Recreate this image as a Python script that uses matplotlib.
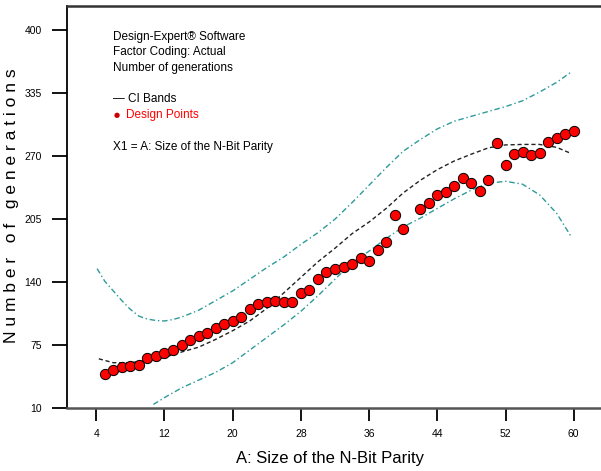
import matplotlib
matplotlib.use('Agg')
import matplotlib.pyplot as plt

# Design points (A: size of the N-bit parity vs number of generations)
x_pts = [5, 6, 7, 8, 9, 10, 11, 12, 13, 14, 15, 16, 17, 18, 19, 20, 21, 22, 23, 24,
         25, 26, 27, 28, 29, 30, 31, 32, 33, 34, 35, 36, 37, 38, 39, 40, 42, 43, 44,
         45, 46, 47, 48, 49, 50, 51, 52, 53, 54, 55, 56, 57, 58, 59, 60]
y_pts = [45.7, 49.5, 52.6, 53.6, 54.4, 61.5, 64.2, 67.3, 70.1, 75.3, 80.4, 84.5, 87.3,
         92.5, 96.9, 100.3, 104.4, 112.1, 117.2, 119.6, 120.9, 119.6, 119.9, 129.2,
         132.0, 143.0, 151.0, 153.6, 156.0, 159.1, 165.0, 161.9, 173.5, 181.3, 209.3,
         194.8, 215.5, 221.3, 229.9, 233.3, 239.2, 247.1, 242.0, 234.3, 245.4, 283.2,
         260.8, 271.9, 274.5, 271.1, 272.9, 284.2, 289.0, 292.8, 296.2]

# fitted line
x_fit = [4.3, 6, 8, 10, 12, 14, 16, 18, 20, 22, 24, 26, 28, 30, 32, 34, 36, 38, 40,
         42, 44, 46, 48, 50, 52, 54, 56, 58, 59.6]
y_fit = [61, 57, 57, 59.5, 62.5, 68, 73, 81, 90, 100, 113, 129, 145, 161, 175, 190,
         202, 216, 232, 245, 256, 265, 272, 278.5, 281.5, 282, 282, 279, 273]

# CI bands
x_up = [4.1, 5, 6, 7, 8, 9, 10, 11, 12, 13, 14, 16, 18, 20, 22, 24, 26, 28, 30, 32,
        34, 36, 38, 40, 42, 44, 46, 48, 50, 52, 54, 56, 58, 59.6]
y_up = [154, 141, 131, 121, 112, 105, 102, 100.5, 100, 101.5, 104, 111, 121, 131, 143,
        155, 166, 179, 191, 205, 222, 240, 258, 275, 287, 298, 306, 311, 316, 321, 327,
        336, 346, 356]
x_lo = [10.7, 12, 14, 16, 18, 20, 22, 24, 26, 28, 30, 32, 34, 36, 38, 40, 42, 44, 46,
        48, 50, 52, 54, 56, 58, 59.7]
y_lo = [14, 21, 31, 39, 47, 57, 70, 83, 96, 110, 126, 143, 160, 172, 185, 197, 206,
        216, 226, 235, 242, 244, 241, 230, 211, 187]

x_ticks = [4, 12, 20, 28, 36, 44, 52, 60]
y_ticks = [10, 75, 140, 205, 270, 335, 400]

FONT = ['Liberation Sans Narrow', 'Liberation Sans', 'DejaVu Sans']
W, H = 601, 471
teal = '#2e9a9a'

fig = plt.figure(figsize=(W / 100, H / 100), dpi=100)
ax = fig.add_axes([67 / W, 1 - 408.3 / H, 1 - 67 / W, (408.3 - 6) / H])

ax.plot(x_up, y_up, color=teal, lw=1.0, dashes=(4, 2, 1, 2))
ax.plot(x_lo, y_lo, color=teal, lw=1.0, dashes=(4, 2, 1, 2))
ax.plot(x_fit, y_fit, color='#222222', lw=1.0, dashes=(3, 2))
ax.plot(x_pts, y_pts, 'o', color='red', markersize=7.4, markeredgecolor='black',
        markeredgewidth=0.7)

ax.set_xlim(0.57, 63.2)
ax.set_ylim(10, 424.7)
ax.set_xticks(x_ticks)
ax.set_yticks(y_ticks)
ax.tick_params(axis='y', direction='out', length=11, width=1.3, pad=7,
               labelsize=7.5, colors='black')
ax.tick_params(axis='x', direction='out', length=9, width=1.3, pad=6,
               labelsize=7.5, colors='black')
for lab in ax.get_xticklabels() + ax.get_yticklabels():
    lab.set_family(FONT)

ax.spines['right'].set_visible(False)
ax.spines['top'].set_linewidth(1.8)
ax.spines['top'].set_color('#333333')
ax.spines['bottom'].set_linewidth(1.8)
ax.spines['bottom'].set_color('#555555')
ax.spines['left'].set_linewidth(1.3)


def px(x, y):
    return x / W, 1 - y / H


fig.text(*px(330, 459), 'A: Size of the N-Bit Parity', fontsize=12, family=FONT,
         ha='center', va='center')
fig.text(*px(12, 206), 'N u m b e r   o f   g e n e r a t i o n s',
         rotation=90, fontsize=12.5, family=FONT, ha='center', va='center')

fs = 8.5
fig.text(*px(113, 37), 'Design-Expert® Software', fontsize=fs, family=FONT, va='center')
fig.text(*px(113, 52), 'Factor Coding: Actual', fontsize=fs, family=FONT, va='center')
fig.text(*px(113, 68), 'Number of generations', fontsize=fs, family=FONT, va='center')
fig.text(*px(113, 99), '— CI Bands', fontsize=fs, family=FONT, va='center')
fig.text(*px(117, 115), '●', fontsize=5, color='#cc0000', ha='center', va='center',
         family='DejaVu Sans')
fig.text(*px(126, 115), 'Design Points', fontsize=fs, family=FONT, va='center',
         color='red')
fig.text(*px(113, 147), 'X1 = A: Size of the N-Bit Parity', fontsize=fs, family=FONT,
         va='center')

fig.savefig('out.png', dpi=100)
